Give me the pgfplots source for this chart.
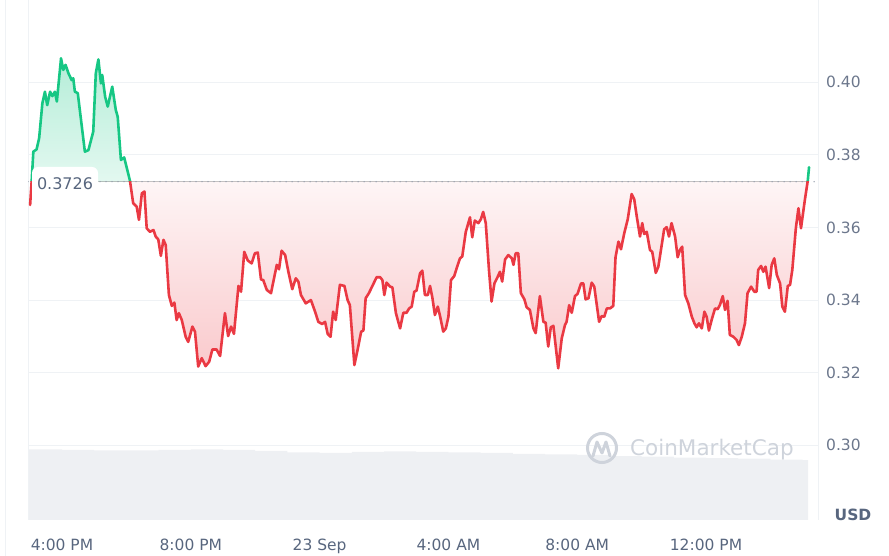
\documentclass[border=0pt]{standalone}
\usepackage{fontspec}
\setmainfont{DejaVu Sans}
\usepackage{pgfplots}
\pgfplotsset{compat=1.18}
\usepgfplotslibrary{fillbetween}
\usepackage{pgfplotstable}

\definecolor{cmcgreen}{RGB}{22,199,132}
\definecolor{cmcred}{RGB}{234,57,67}
\definecolor{gridc}{RGB}{239,242,245}
\definecolor{volc}{RGB}{238,240,243}
\definecolor{xlabc}{RGB}{88,102,126}
\definecolor{ylabc}{RGB}{108,119,140}
\definecolor{dotc}{RGB}{150,158,172}
\definecolor{wmc}{RGB}{206,211,219}

\pgfplotstableread{
h p
15.01 0.3662
15.06 0.3731
15.11 0.3809
15.21 0.3815
15.29 0.3846
15.39 0.3942
15.47 0.3974
15.54 0.3937
15.63 0.3974
15.70 0.3962
15.78 0.3974
15.84 0.3947
15.97 0.4066
16.04 0.4034
16.11 0.4048
16.20 0.4025
16.30 0.4006
16.35 0.4011
16.40 0.3974
16.49 0.3970
16.71 0.3809
16.82 0.3813
16.97 0.3864
17.05 0.4025
17.13 0.4063
17.21 0.3997
17.25 0.4020
17.34 0.3960
17.42 0.3933
17.56 0.3988
17.67 0.3924
17.73 0.3905
17.83 0.3786
17.93 0.3793
18.11 0.3729
18.21 0.3667
18.32 0.3657
18.39 0.3621
18.48 0.3694
18.56 0.3699
18.63 0.3598
18.73 0.3588
18.84 0.3593
18.91 0.3575
18.99 0.3567
19.07 0.3522
19.15 0.3566
19.22 0.3552
19.32 0.3414
19.41 0.3384
19.49 0.3393
19.56 0.3345
19.63 0.3364
19.72 0.3345
19.84 0.3299
19.92 0.3285
20.05 0.3327
20.13 0.3313
20.23 0.3217
20.34 0.3240
20.46 0.3218
20.57 0.3230
20.67 0.3264
20.80 0.3264
20.91 0.3246
21.06 0.3364
21.16 0.3301
21.25 0.3327
21.34 0.3307
21.48 0.3439
21.56 0.3423
21.66 0.3533
21.77 0.3509
21.89 0.3501
21.99 0.3529
22.08 0.3531
22.18 0.3457
22.25 0.3455
22.36 0.3428
22.49 0.3419
22.67 0.3497
22.74 0.3485
22.82 0.3536
22.93 0.3524
23.03 0.3478
23.15 0.3430
23.26 0.3460
23.34 0.3451
23.42 0.3414
23.57 0.3391
23.73 0.3400
23.86 0.3368
23.96 0.3340
24.08 0.3334
24.17 0.3340
24.25 0.3307
24.34 0.3299
24.42 0.3368
24.50 0.3345
24.63 0.3442
24.77 0.3439
24.87 0.3400
24.94 0.3386
25.08 0.3221
25.18 0.3263
25.29 0.3313
25.36 0.3316
25.43 0.3405
25.53 0.3419
25.64 0.3439
25.77 0.3463
25.88 0.3463
25.95 0.3455
26.01 0.3414
26.08 0.3448
26.19 0.3437
26.26 0.3435
26.37 0.3364
26.50 0.3322
26.60 0.3365
26.70 0.3365
26.78 0.3377
26.86 0.3382
26.94 0.3423
27.01 0.3426
27.12 0.3474
27.19 0.3481
27.27 0.3414
27.36 0.3414
27.43 0.3439
27.50 0.3408
27.58 0.3359
27.67 0.3382
27.74 0.3356
27.84 0.3313
27.92 0.3322
28.00 0.3354
28.08 0.3455
28.18 0.3466
28.29 0.3497
28.36 0.3515
28.43 0.3520
28.54 0.3588
28.67 0.3628
28.74 0.3573
28.82 0.3619
28.93 0.3612
29.01 0.3623
29.08 0.3643
29.16 0.3612
29.26 0.3483
29.34 0.3396
29.43 0.3446
29.53 0.3464
29.60 0.3478
29.67 0.3451
29.76 0.3512
29.86 0.3524
29.97 0.3515
30.02 0.3497
30.09 0.3529
30.17 0.3529
30.25 0.3419
30.36 0.3402
30.43 0.3380
30.53 0.3373
30.64 0.3322
30.71 0.3309
30.84 0.3411
30.95 0.3340
31.02 0.3338
31.10 0.3272
31.18 0.3325
31.26 0.3329
31.41 0.3212
31.52 0.3295
31.62 0.3331
31.67 0.3340
31.75 0.3386
31.83 0.3365
31.93 0.3411
32.01 0.3417
32.12 0.3446
32.19 0.3446
32.26 0.3402
32.35 0.3405
32.45 0.3448
32.53 0.3437
32.68 0.3340
32.76 0.3356
32.84 0.3354
32.92 0.3377
33.02 0.3377
33.12 0.3384
33.19 0.3518
33.28 0.3561
33.36 0.3540
33.46 0.3584
33.57 0.3623
33.69 0.3692
33.77 0.3678
33.85 0.3630
33.95 0.3575
34.02 0.3612
34.08 0.3582
34.16 0.3588
34.26 0.3538
34.33 0.3533
34.44 0.3475
34.52 0.3492
34.70 0.3595
34.78 0.3601
34.85 0.3575
34.93 0.3612
35.04 0.3575
35.12 0.3518
35.19 0.3538
35.26 0.3547
35.35 0.3414
35.45 0.3391
35.56 0.3354
35.64 0.3336
35.71 0.3325
35.78 0.3336
35.87 0.3322
35.95 0.3368
36.02 0.3354
36.09 0.3316
36.18 0.3347
36.28 0.3377
36.36 0.3375
36.43 0.3386
36.52 0.3411
36.59 0.3373
36.67 0.3398
36.74 0.3304
36.85 0.3299
36.95 0.3290
37.02 0.3276
37.11 0.3299
37.21 0.3336
37.29 0.3419
37.40 0.3437
37.50 0.3423
37.57 0.3423
37.62 0.3483
37.71 0.3494
37.78 0.3478
37.85 0.3492
37.96 0.3433
38.04 0.3497
38.12 0.3515
38.20 0.3469
38.30 0.3446
38.37 0.3382
38.45 0.3368
38.54 0.3439
38.61 0.3442
38.68 0.3483
38.79 0.3598
38.87 0.3653
38.95 0.3598
39.07 0.3676
39.16 0.3729
39.20 0.3766
}\price

\pgfplotstableread{
h v
14.98 13.6
16 13.5
17 13.4
18 13.4
19 13.5
20 13.6
21 13.5
22 13.3
23 13.0
24 12.9
25 13.1
26 13.2
27 13.1
28 13.0
29 12.9
30 12.7
31 12.6
32 12.5
33 12.3
34 12.2
35 12.0
36 11.9
37 11.8
38 11.6
39 11.5
39.17 11.5
}\volume

\begin{document}
\begin{tikzpicture}
% card border and axis side lines
\draw[gridc, line width=1pt] (5pt,0pt) -- (5pt,556pt);
\draw[gridc, line width=1pt] (28pt,36pt) -- (28pt,556pt);
\draw[gridc, line width=1pt] (818pt,36pt) -- (818pt,556pt);

% volume
\begin{axis}[at={(28pt,36pt)}, anchor=south west, scale only axis,
  width=790pt, height=520pt, xmin=14.944, xmax=39.478, ymin=0, ymax=100,
  hide axis]
\addplot[ybar interval, fill=volc, draw=none] table[x=h,y=v]{\volume};
\end{axis}

% price
\begin{axis}[at={(28pt,36pt)}, anchor=south west, scale only axis,
  width=790pt, height=520pt,
  xmin=14.944, xmax=39.478, ymin=0.27942, ymax=0.42267,
  axis line style={draw=none},
  ymajorgrids, major grid style={draw=gridc, line width=1pt},
  ytick={0.30,0.32,0.34,0.36,0.38,0.40},
  yticklabel pos=right,
  /pgf/number format/assume math mode=true,
  yticklabel style={/pgf/number format/fixed, /pgf/number format/fixed zerofill, /pgf/number format/precision=2},
  y tick label style={font=\fontsize{15.5}{18}\selectfont, text=ylabc, anchor=west, inner sep=0pt, xshift=8pt},
  xtick={16,20,24,28,32,36},
  xticklabels={4:00 PM, 8:00 PM, 23 Sep, 4:00 AM, 8:00 AM, 12:00 PM},
  x tick label style={font=\fontsize{15.5}{18}\selectfont, text=xlabc, anchor=base, yshift=-31pt},
  major tick length=0pt,
]
\addplot[name path=P, draw=none] table[x=h,y=p]{\price};
\addplot[name path=B, draw=none] coordinates {(14.9,0.3726) (39.5,0.3726)};

% areas between price and the opening value
\addplot[draw=none, top color=cmcgreen!32!white, bottom color=cmcgreen!12!white]
  fill between[of=P and B, soft clip={domain=15.056:18.115}];
\addplot[draw=none, fill=cmcgreen!14!white]
  fill between[of=P and B, soft clip={domain=39.155:39.2}];
\addplot[draw=none, top color=cmcred!5!white, bottom color=cmcred!27!white]
  fill between[of=P and B, soft clip={domain=18.115:39.155}];
\addplot[draw=none, fill=cmcred!8!white]
  fill between[of=P and B, soft clip={domain=15.01:15.056}];

\draw[dotc, line width=1.5pt, line cap=round, dash pattern=on 0pt off 6pt] (axis cs:14.944,0.3726) -- (axis cs:39.478,0.3726);

\begin{scope}
\clip (axis cs:14.9,0.3726) rectangle (axis cs:39.5,0.43);
\addplot[cmcgreen, line width=2.6pt, line join=round, line cap=round] table[x=h,y=p]{\price};
\end{scope}
\begin{scope}
\clip (axis cs:14.9,0.27) rectangle (axis cs:39.5,0.3726);
\addplot[cmcred, line width=2.6pt, line join=round, line cap=round] table[x=h,y=p]{\price};
\end{scope}
\end{axis}

% baseline value label
\node[fill=white, rounded corners=6pt, minimum width=66pt, minimum height=34pt, inner sep=0pt,
  font=\fontsize{16}{19}\selectfont, text=xlabc] at (65pt,372pt) {0.3726};

% currency
\node[font=\bfseries\fontsize{15.5}{18}\selectfont, text=xlabc, anchor=base] at (853pt,35pt) {USD};

% watermark
\draw[wmc, line width=3pt] (602pt,108pt) circle (14.5pt);
\draw[wmc, line width=3pt, line join=round, line cap=round]
  (593pt,100pt) -- (597pt,114pt) -- (602pt,103pt) -- (606pt,114pt) -- (610pt,100pt);
\node[font=\fontsize{21.5}{24}\selectfont, text=wmc, anchor=west, inner sep=0pt] at (630pt,106pt) {CoinMarketCap};

\pgfresetboundingbox
\useasboundingbox (0pt,0pt) rectangle (889pt,556pt);
\end{tikzpicture}
\end{document}
